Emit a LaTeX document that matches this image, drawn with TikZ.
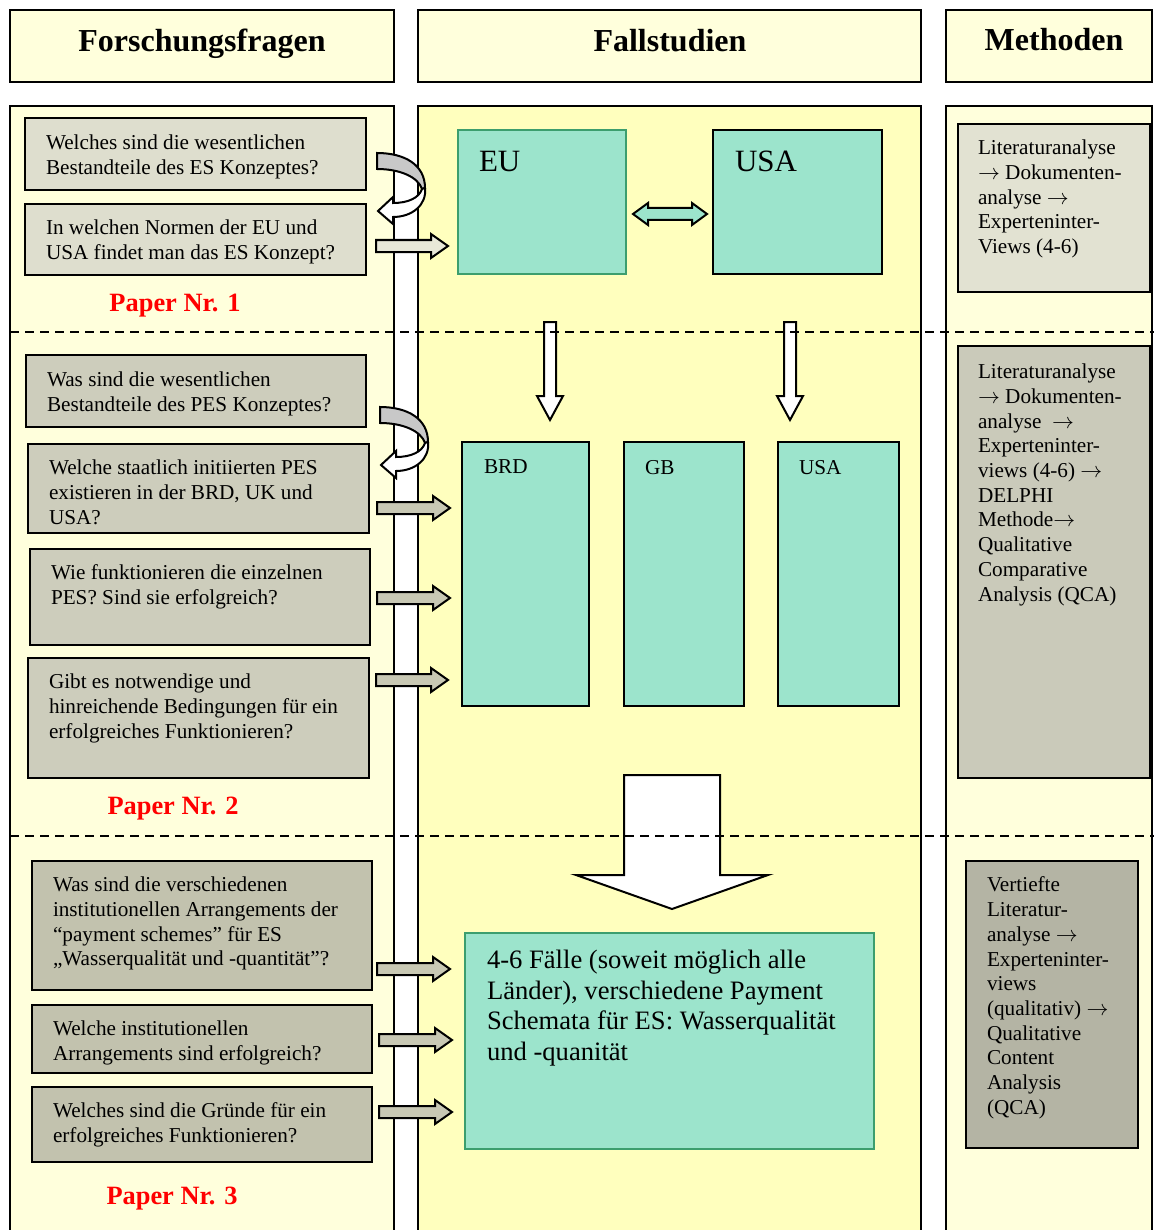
\documentclass[tikz,border=0pt]{standalone}
\usepackage{fontspec}
\setmainfont{Liberation Serif}
\definecolor{paleY}{HTML}{FFFFDC}
\definecolor{midY}{HTML}{FFFFBE}
\definecolor{tealF}{HTML}{9CE4CC}
\definecolor{tealB}{HTML}{3C9E6E}
\definecolor{greyA}{HTML}{DEDECE}
\definecolor{greyB}{HTML}{CDCDBC}
\definecolor{greyC}{HTML}{C2C2AE}
\definecolor{greyRa}{HTML}{E2E2D2}
\definecolor{greyRb}{HTML}{CACABA}
\definecolor{greyRc}{HTML}{B4B4A4}
\definecolor{arrowA}{HTML}{E8E8D8}
\definecolor{arrowB}{HTML}{C8C8B4}
\definecolor{curveG}{HTML}{C8C8C8}
\newcommand\rarr{$\rightarrow$}
\newcommand\blockarrowR[4]{%
  \draw[fill=#4, line width=1pt] (#1,#2-6) -- (#3-17,#2-6) -- (#3-17,#2-12) -- (#3,#2) -- (#3-17,#2+12) -- (#3-17,#2+6) -- (#1,#2+6) -- cycle;}
\newcommand\curvedarrowL{%
  \draw[fill=curveG, line width=1pt] (377,153) .. controls (405,153) and (425,165) .. (425,188) -- (422,189) .. controls (418,177) and (400,169) .. (377,169) -- cycle;
  \draw[fill=white, line width=1pt] (422,189) -- (425,188) .. controls (427,205) and (412,217) .. (393,217) -- (393,224) -- (378,211) -- (393,197) -- (393,203) .. controls (408,203) and (419,198) .. (422,189) -- cycle;}
\begin{document}
\begin{tikzpicture}[x=0.5pt,y=-0.5pt, line join=miter,
  every node/.style={inner sep=0pt, outer sep=0pt},
  frame/.style={draw=black, line width=1pt},
  txt/.style={anchor=north west, align=left, font=\fontsize{10.6pt}{12.35pt}\selectfont},
  head/.style={anchor=base, font=\fontsize{16pt}{19pt}\selectfont\bfseries},
  paper/.style={anchor=base, font=\fontsize{13.2pt}{15pt}\selectfont\bfseries, text=red},
  case/.style={anchor=north west, font=\fontsize{15.5pt}{18pt}\selectfont},
  bigtxt/.style={anchor=north west, align=left, font=\fontsize{13.3pt}{15.35pt}\selectfont},
  sepline/.style={dash pattern=on 4.5pt off 3pt, line width=1pt}
]
\useasboundingbox (0,0) rectangle (1154,1230);
\clip (0,0) rectangle (1154,1230);
\fill[white] (0,0) rectangle (1154,1230);

% headers
\draw[frame, fill=paleY] (10,10) rectangle (394,82);
\draw[frame, fill=paleY] (418,10) rectangle (921,82);
\draw[frame, fill=paleY] (946,10) rectangle (1152,82);
\node[head] (hF) at (202,52) {Forschungsfragen};
\node[head] (hC) at (670,52) {Fallstudien};
\node[head] (hM) at (1054,51) {Methoden};

% panels
\draw[frame, fill=paleY] (10,106) rectangle (394,1260);
\draw[frame, fill=midY] (418,106) rectangle (921,1260);
\draw[frame, fill=paleY] (946,106) rectangle (1152,1260);

% left question boxes
\draw[frame, fill=greyA] (25,118) rectangle (366,190);
\node[txt] (q1) at (46,135) {Welches sind die wesentlichen\\Bestandteile des ES Konzeptes?};
\draw[frame, fill=greyA] (25,204) rectangle (366,275);
\node[txt] (q2) at (46,220) {In welchen Normen der EU und\\USA findet man das ES Konzept?};
\node[paper] (p1) at (175,311) {Paper Nr. 1};

\draw[frame, fill=greyB] (26,355) rectangle (366,427);
\node[txt] (q3) at (47,372) {Was sind die wesentlichen\\Bestandteile des PES Konzeptes?};
\draw[frame, fill=greyB] (28,444) rectangle (369,533);
\node[txt] (q4) at (49,460) {Welche staatlich initiierten PES\\existieren in der BRD, UK und\\USA?};
\draw[frame, fill=greyB] (30,549) rectangle (370,645);
\node[txt] (q5) at (51,565) {Wie funktionieren die einzelnen\\PES? Sind sie erfolgreich?};
\draw[frame, fill=greyB] (28,658) rectangle (369,778);
\node[txt] (q6) at (49,674) {Gibt es notwendige und\\hinreichende Bedingungen für ein\\erfolgreiches Funktionieren?};
\node[paper] (p2) at (173,814) {Paper Nr. 2};

\draw[frame, fill=greyC] (32,861) rectangle (372,990);
\node[txt] (q7) at (53,877) {Was sind die verschiedenen\\institutionellen Arrangements der\\“payment schemes” für ES\\„Wasserqualität und -quantität”?};
\draw[frame, fill=greyC] (32,1005) rectangle (372,1073);
\node[txt] (q8) at (53,1021) {Welche institutionellen\\Arrangements sind erfolgreich?};
\draw[frame, fill=greyC] (32,1087) rectangle (372,1162);
\node[txt] (q9) at (53,1103) {Welches sind die Gründe für ein\\erfolgreiches Funktionieren?};
\node[paper] (p3) at (172,1204) {Paper Nr. 3};

% case study boxes
\draw[line width=1pt, draw=tealB, fill=tealF] (458,130) rectangle (626,274);
\node[case] (cEU) at (479,151) {EU};
\draw[frame, fill=tealF] (713,130) rectangle (882,274);
\node[case] (cUSA) at (735,151) {USA};
\draw[frame, fill=tealF] (462,442) rectangle (589,706);
\node[txt] (cBRD) at (484,460) {BRD};
\draw[frame, fill=tealF] (624,442) rectangle (744,706);
\node[txt] (cGB) at (645,460) {GB};
\draw[frame, fill=tealF] (778,442) rectangle (899,706);
\node[txt] (cUS2) at (799,460) {USA};
\draw[line width=1pt, draw=tealB, fill=tealF] (465,933) rectangle (874,1149);
\node[bigtxt] (cAll) at (487,950) {4-6 Fälle (soweit möglich alle\\Länder), verschiedene Payment\\Schemata für ES: Wasserqualität\\und -quanität};

% method boxes
\draw[frame, fill=greyRa] (958,124) rectangle (1150,292);
\node[txt] (m1) at (978,140) {Literaturanalyse\\\rarr\ Dokumenten-\\analyse \rarr\\Experteninter-\\Views (4-6)};
\draw[frame, fill=greyRb] (958,346) rectangle (1150,778);
\node[txt] (m2) at (978,364) {Literaturanalyse\\\rarr\ Dokumenten-\\analyse\ \ \rarr\\Experteninter-\\views (4-6) \rarr\\DELPHI\\Methode\rarr\\Qualitative\\Comparative\\Analysis (QCA)};
\draw[frame, fill=greyRc] (966,861) rectangle (1138,1148);
\node[txt] (m3) at (987,877) {Vertiefte\\Literatur-\\analyse \rarr\\Experteninter-\\views\\(qualitativ) \rarr\\Qualitative\\Content\\Analysis\\(QCA)};

% curved arrows
\curvedarrowL
\begin{scope}[shift={(3,254)}]
\curvedarrowL
\end{scope}

% straight block arrows
\blockarrowR{376}{246}{448}{arrowA}
\blockarrowR{377}{508}{450}{arrowB}
\blockarrowR{377}{598}{450}{arrowB}
\blockarrowR{376}{680}{448}{arrowB}
\blockarrowR{377}{969}{450}{arrowB}
\blockarrowR{379}{1040}{452}{arrowB}
\blockarrowR{379}{1112}{452}{arrowB}

% double arrow EU <-> USA
\draw[fill=tealF, line width=1pt] (633,214) -- (648,203) -- (648,208) -- (692,208) -- (692,203) -- (707,214) -- (692,225) -- (692,220) -- (648,220) -- (648,225) -- cycle;

% down arrows
\draw[fill=white, line width=1pt] (544,322) -- (556,322) -- (556,396) -- (563,396) -- (550,420) -- (537,396) -- (544,396) -- cycle;
\draw[fill=white, line width=1pt] (784,322) -- (796,322) -- (796,396) -- (803,396) -- (790,420) -- (777,396) -- (784,396) -- cycle;
\draw[fill=white, line width=1pt] (624,775) -- (720,775) -- (720,875) -- (768,875) -- (672,909) -- (576,875) -- (624,875) -- cycle;

% dashed separators
\coordinate (dA1) at (10,332);
\coordinate (dA2) at (1154,332);
\coordinate (dB1) at (10,836);
\coordinate (dB2) at (1154,836);
\draw[sepline] (dA1) -- (dA2);
\draw[sepline] (dB1) -- (dB2);
\end{tikzpicture}
\end{document}
